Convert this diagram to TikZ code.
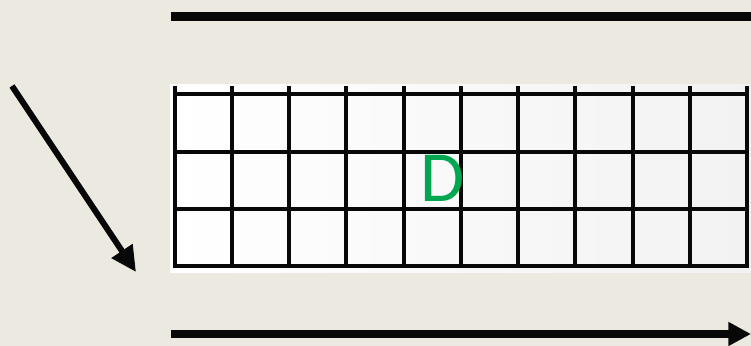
\documentclass[tikz,border=0pt]{standalone}
\usepackage{fontspec}
\newfontfamily\carlito{Carlito}
\usetikzlibrary{arrows.meta}
\definecolor{cBg}    {RGB}{236,234,224}
\definecolor{cInk}   {RGB}{8,8,8}
\definecolor{cCellR} {RGB}{242,242,242}
\definecolor{cLetter}{RGB}{0,166,80}
% grade: origem, largura e altura das celulas (em px)
\def\gx{174.7}
\def\gy{94.5}
\def\cw{57.25}
\def\ch{57.2}

\begin{document}
\begin{tikzpicture}[x=0.75pt,y=-0.75pt,
  gridline/.style={cInk,line width=3pt},
  rule/.style={cInk,line width=6.5pt},
  arrowline/.style={cInk,line width=#1},
  letter/.style={font=\carlito\fontsize{54}{54}\selectfont,text=cLetter,inner sep=0pt}]

% fundo
\fill[cBg] (0,0) rectangle (751,346);
\useasboundingbox (0,0) rectangle (751,346);

% =================== LINHA SUPERIOR ===================
\coordinate (topL) at (171,16.5);
\coordinate (topR) at (751,16.5);
\draw[rule] (topL) -- (topR);

% =================== GRADE ===================
\shade[left color=white,right color=cCellR] (170,85) rectangle (751,272);
\foreach \i in {0,...,10}
  \draw[gridline] (\gx+\i*\cw,\gy-8) -- (\gx+\i*\cw,\gy+3*\ch+1.5);
\foreach \j in {0,...,3}
  \draw[gridline] (\gx-2,\gy+\j*\ch) -- (\gx+10*\cw+2,\gy+\j*\ch);

\node[letter] (dLetter) at (443,178) {D};

% =================== SETAS ===================
\coordinate (diagS) at (12,86);
\coordinate (diagE) at (136,272);
\draw[arrowline=4.5pt,-{Triangle[length=19pt,width=18pt]}] (diagS) -- (diagE);

\coordinate (botL) at (171,334);
\coordinate (botR) at (751,334);
\draw[arrowline=5.6pt,-{Triangle[length=17pt,width=17pt]}] (botL) -- (botR);

\end{tikzpicture}
\end{document}
